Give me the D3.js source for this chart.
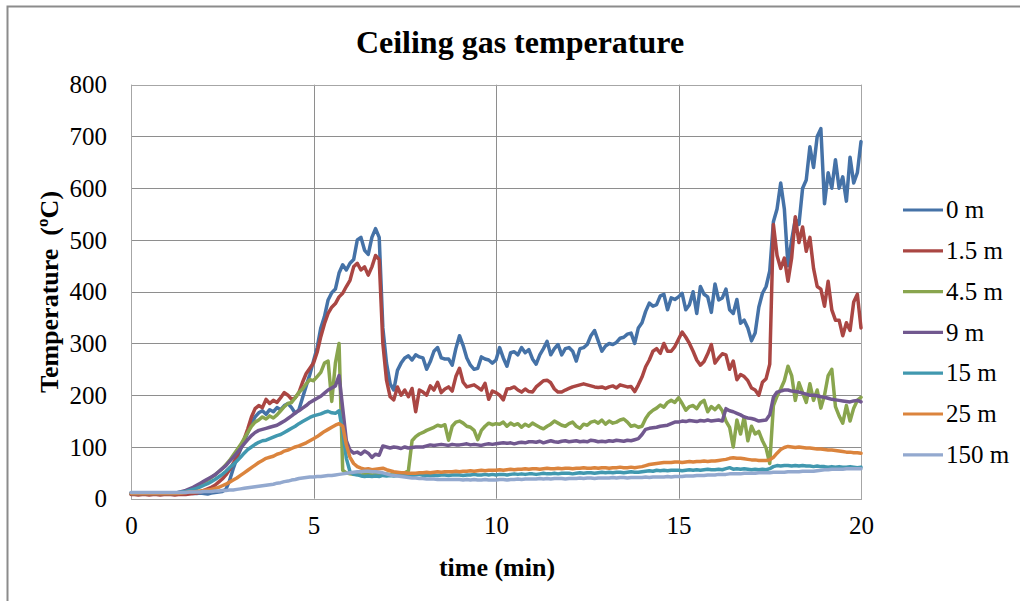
<!DOCTYPE html>
<html>
<head>
<meta charset="utf-8">
<script src="https://cdn.jsdelivr.net/npm/d3@7"></script>
<style>
  html, body { margin: 0; padding: 0; background: #ffffff; }
  svg { display: block; }
  text { font-family: "Liberation Serif", "Times New Roman", serif; fill: #000; }
</style>
</head>
<body>
<svg id="chart" width="1020" height="601"></svg>
<script>
// Ceiling gas temperature, sampled every 0.1 min from 0 to 20 min (201 readings per probe)
const timeStepMin = 0.1;

const temp0m = [
  10,10,11,10,10,11,10,10,11,10,
  10,11,10,10,11,10,11,10,10,11,
  10,9,11,12,13,14,18,35,58,78,
  95,112,128,145,158,166,170,163,172,168,
  176,172,180,184,176,165,172,195,218,240,
  266,292,330,352,384,398,405,436,452,442,
  455,462,500,505,480,472,505,522,505,330,
  262,222,210,248,262,272,276,268,278,274,
  272,250,265,285,292,272,270,270,258,290,
  315,296,272,258,250,252,274,270,268,262,
  268,292,272,256,282,284,278,292,282,288,
  270,260,278,290,304,278,290,298,278,290,
  292,285,266,290,292,298,315,325,305,285,
  295,300,298,302,310,312,318,320,300,330,
  340,362,378,372,375,392,395,365,388,385,
  390,397,365,375,400,358,410,395,390,360,
  415,384,388,405,365,358,385,339,345,330,
  305,320,370,397,410,440,535,560,610,560,
  450,500,540,530,600,616,680,640,700,715,
  570,630,600,655,600,622,575,660,610,630,
  690
];

const temp1_5m = [
  8,8,7,8,8,7,8,8,7,8,
  8,8,7,8,8,8,9,10,11,13,
  16,19,22,26,32,38,46,56,68,82,
  98,115,135,158,174,180,176,192,184,190,
  186,195,205,200,192,195,205,225,242,252,
  262,283,313,338,358,370,377,390,397,410,
  422,448,455,442,448,432,448,470,462,300,
  229,197,191,216,200,210,197,213,168,210,
  206,200,218,210,225,205,212,216,208,236,
  252,225,216,218,220,215,210,223,192,208,
  205,200,191,212,213,216,210,206,212,207,
  206,216,222,228,229,224,212,206,206,210,
  213,216,218,220,222,220,218,216,215,216,
  213,216,218,214,220,218,216,217,207,220,
  235,255,268,285,290,281,300,285,285,294,
  308,322,312,300,285,268,258,265,280,298,
  262,272,280,278,250,266,230,240,236,228,
  214,210,200,225,232,260,530,470,445,465,
  420,465,545,495,525,478,505,445,410,405,
  372,420,365,345,345,315,340,325,380,395,
  330
];

const temp4_5m = [
  10,10,10,10,10,10,10,10,10,10,
  10,10,10,11,12,14,17,20,24,28,
  32,36,41,46,52,58,66,74,84,94,
  104,116,128,140,148,152,158,154,160,156,
  162,170,178,184,186,195,205,212,222,230,
  228,236,244,262,266,188,262,300,55,50,
  48,47,48,46,47,48,46,47,48,47,
  48,47,48,46,48,50,54,112,120,125,
  128,132,135,138,142,140,143,113,140,148,
  150,146,140,138,132,114,132,140,146,143,
  145,144,148,140,146,142,145,138,144,140,
  146,142,138,135,140,144,150,146,142,140,
  145,148,140,136,144,142,148,150,146,152,
  144,150,146,148,152,154,148,140,142,138,
  140,155,165,171,175,181,177,186,190,186,
  195,184,171,178,180,174,185,190,168,178,
  172,180,170,150,138,100,152,125,158,112,
  140,125,130,112,98,68,180,198,212,228,
  256,238,190,224,205,186,222,190,210,175,
  200,238,250,178,160,146,180,150,175,190,
  196
];

const temp9m = [
  10,10,10,10,10,10,10,10,10,10,
  10,10,10,12,14,16,19,22,26,30,
  34,38,42,46,52,58,64,72,80,88,
  97,106,114,122,128,132,134,136,138,140,
  142,146,150,155,160,166,170,175,180,186,
  190,194,198,204,210,214,218,238,175,112,
  94,88,90,86,92,88,80,86,84,102,
  100,98,100,99,97,100,98,99,100,100,
  100,102,104,103,104,105,104,103,105,104,
  104,105,106,104,105,104,103,105,106,105,
  106,107,108,107,108,106,108,109,108,110,
  110,109,111,108,110,112,110,109,111,112,
  110,111,112,110,111,110,113,112,110,111,
  110,112,111,113,112,111,113,112,114,116,
  124,134,136,137,138,140,141,142,145,148,
  148,150,149,151,150,149,151,150,152,150,
  151,152,150,174,170,168,165,162,158,156,
  155,153,150,151,152,162,196,206,208,210,
  210,208,207,206,204,202,200,200,199,197,
  196,194,192,191,190,189,188,187,189,190,
  187
];

const temp15m = [
  11,11,11,11,11,11,11,11,11,11,
  11,11,11,12,13,14,16,18,20,23,
  26,29,33,37,42,47,53,60,66,73,
  80,88,95,100,105,109,112,113,116,119,
  122,124,128,132,136,140,145,149,153,157,
  160,162,164,167,169,166,165,170,130,78,
  52,47,46,44,43,44,43,44,43,45,
  44,45,44,45,46,45,46,45,46,47,
  45,46,45,46,45,46,46,45,46,46,
  46,45,46,46,47,46,46,47,46,47,
  46,47,47,46,47,48,47,48,47,48,
  48,47,48,49,48,48,49,48,49,49,
  49,48,49,50,49,50,50,49,50,51,
  50,51,50,51,51,50,51,52,51,51,
  52,53,54,53,55,54,55,54,55,55,
  55,54,55,56,55,56,55,56,57,56,
  56,57,56,58,60,57,58,57,58,57,
  56,57,56,57,56,58,62,64,63,64,
  64,63,64,63,64,63,63,62,63,62,
  62,61,62,61,62,61,61,62,61,60,
  61
];

const temp25m = [
  10,10,10,10,10,10,10,10,10,10,
  10,10,10,10,11,12,13,13,14,15,
  16,17,18,20,22,25,28,32,36,40,
  45,50,55,60,65,70,74,78,80,82,
  86,88,92,94,97,100,102,105,108,112,
  116,120,125,130,134,138,142,145,140,104,
  80,68,62,59,57,58,56,57,58,59,
  56,54,52,51,50,50,49,49,49,50,
  50,51,50,51,52,51,52,52,52,53,
  52,53,53,54,53,54,55,54,55,55,
  55,56,55,56,57,56,57,57,58,57,
  58,58,57,58,59,58,58,59,58,59,
  59,58,59,59,60,59,59,60,59,60,
  60,59,60,60,61,60,60,61,60,61,
  62,64,66,67,68,69,70,70,70,71,
  71,70,71,72,71,72,72,73,72,73,
  73,74,75,76,78,79,78,78,77,76,
  75,75,74,74,74,75,80,88,95,99,
  101,100,99,100,99,98,98,97,96,96,
  95,94,94,93,92,91,90,90,89,89,
  88
];

const temp150m = [
  12,12,12,12,12,12,12,12,12,12,
  12,12,12,12,12,12,13,13,13,13,
  14,14,14,15,15,16,16,17,17,18,
  19,20,21,22,23,24,25,26,27,28,
  30,31,33,34,36,37,39,40,41,42,
  42,43,43,44,45,45,46,47,48,49,
  50,51,52,52,53,53,52,52,51,50,
  48,46,45,44,43,42,41,40,40,39,
  39,38,38,38,37,37,37,37,37,37,
  37,36,37,36,37,36,36,37,36,36,
  36,37,37,36,37,37,38,37,38,38,
  38,38,39,38,39,38,39,39,39,38,
  39,39,39,40,39,40,40,39,40,40,
  40,40,41,40,41,41,40,41,41,41,
  41,42,41,42,42,42,42,43,42,43,
  43,43,44,44,44,45,45,45,46,46,
  46,47,47,47,48,48,48,48,49,49,
  49,49,50,50,50,50,51,51,51,51,
  52,52,52,52,53,53,53,53,54,55,
  56,56,57,57,57,57,58,58,58,58,
  58
];

const seriesLabels = ["0 m", "1.5 m", "4.5 m", "9 m", "15 m", "25 m", "150 m"];
const seriesValues = [temp0m, temp1_5m, temp4_5m, temp9m, temp15m, temp25m, temp150m];
const seriesColors = ["#4572A7", "#AA4643", "#89A54E", "#71588F", "#4198AF", "#DB843D", "#93A9CF"];

const xTicks = [0, 5, 10, 15, 20];
const yTicks = [0, 100, 200, 300, 400, 500, 600, 700, 800];

const titleText = "Ceiling gas temperature";
const xTitle = "time (min)";
const yTitle = "Temperature  (ºC)";

// ---- layout ----
const svg = d3.select("#chart");
const plot = { left: 131, right: 861, top: 84.7, bottom: 498.7 };
const serif = "'Liberation Serif', 'Times New Roman', serif";

const x = d3.scaleLinear().domain([0, 20]).range([plot.left, plot.right]);
const y = d3.scaleLinear().domain([0, 800]).range([plot.bottom, plot.top]);

// outer chart frame
svg.append("rect")
  .attr("x", 7.5).attr("y", 6.5)
  .attr("width", 1040).attr("height", 620)
  .attr("fill", "none").attr("stroke", "#8c8c8c").attr("stroke-width", 2);

// gridlines
const gridColor = "#8e8e8e";
svg.append("g")
  .selectAll("line")
  .data(yTicks)
  .join("line")
  .attr("x1", plot.left).attr("x2", plot.right)
  .attr("y1", d => Math.round(y(d)) + 0.5).attr("y2", d => Math.round(y(d)) + 0.5)
  .attr("stroke", gridColor).attr("stroke-width", 1);

svg.append("g")
  .selectAll("line")
  .data(xTicks)
  .join("line")
  .attr("x1", d => Math.round(x(d)) + 0.5).attr("x2", d => Math.round(x(d)) + 0.5)
  .attr("y1", plot.top).attr("y2", plot.bottom)
  .attr("stroke", gridColor).attr("stroke-width", 1);

// plot area border
svg.append("rect")
  .attr("x", plot.left + 0.5).attr("y", Math.round(plot.top) + 0.5)
  .attr("width", plot.right - plot.left).attr("height", Math.round(plot.bottom) - Math.round(plot.top))
  .attr("fill", "none").attr("stroke", "#a6a6a6").attr("stroke-width", 1);

// axes (tick labels only; the lines are the grid)
const tickFont = 25;
const yAxis = d3.axisLeft(y).tickValues(yTicks).tickSize(0).tickPadding(24).tickFormat(d3.format("d"));
const gy = svg.append("g").attr("transform", `translate(${plot.left},0)`).call(yAxis);
gy.select(".domain").remove();
gy.selectAll("text")
  .attr("font-size", tickFont)
  .style("font-family", serif)
  .attr("fill", "#000")
  .attr("dy", "0.33em");

const xAxis = d3.axisBottom(x).tickValues(xTicks).tickSize(0).tickPadding(24).tickFormat(d3.format("d"));
const gx = svg.append("g").attr("transform", `translate(0,${plot.bottom})`).call(xAxis);
gx.select(".domain").remove();
gx.selectAll("text")
  .attr("font-size", tickFont)
  .style("font-family", serif)
  .attr("fill", "#000")
  .attr("dy", "0.45em");

// series lines
const line = d3.line()
  .x((d, i) => x(i * timeStepMin))
  .y(d => y(d));

svg.append("g")
  .selectAll("path")
  .data(seriesValues)
  .join("path")
  .attr("d", d => line(d))
  .attr("fill", "none")
  .attr("stroke", (d, i) => seriesColors[i])
  .attr("stroke-width", 3.5)
  .attr("stroke-linejoin", "round")
  .attr("stroke-linecap", "round");

// titles
svg.append("text")
  .attr("x", 520).attr("y", 53)
  .attr("text-anchor", "middle")
  .style("font-family", serif)
  .attr("font-size", 32).attr("font-weight", "bold")
  .text(titleText);

svg.append("text")
  .attr("x", 497).attr("y", 576)
  .attr("text-anchor", "middle")
  .style("font-family", serif)
  .attr("font-size", 26).attr("font-weight", "bold")
  .text(xTitle);

svg.append("text")
  .attr("transform", "translate(58,292) rotate(-90)")
  .attr("text-anchor", "middle")
  .style("font-family", serif)
  .style("white-space", "pre")
  .attr("font-size", 26).attr("font-weight", "bold")
  .text(yTitle);

// legend
const legend = svg.append("g")
  .selectAll("g")
  .data(seriesLabels)
  .join("g")
  .attr("transform", (d, i) => `translate(903,${210 + i * 40.8})`);

legend.append("line")
  .attr("x1", 0).attr("x2", 40)
  .attr("y1", 0).attr("y2", 0)
  .attr("stroke", (d, i) => seriesColors[i])
  .attr("stroke-width", 3.2);

legend.append("text")
  .attr("x", 43).attr("y", 0)
  .attr("dy", "0.33em")
  .style("font-family", serif)
  .attr("font-size", 25)
  .text(d => d);
</script>
</body>
</html>
